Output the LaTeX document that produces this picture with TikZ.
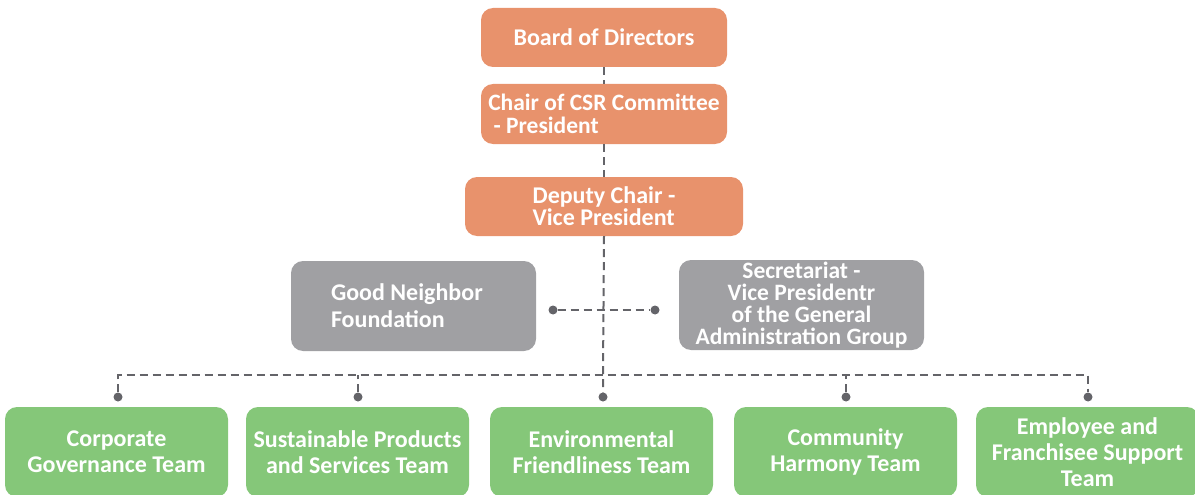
\documentclass[tikz,border=0pt]{standalone}
\usepackage{fontspec}
\setmainfont{Carlito}
\definecolor{orangebox}{RGB}{232,146,108}
\definecolor{greybox}{RGB}{160,160,163}
\definecolor{greenbox}{RGB}{133,199,121}
\definecolor{linegrey}{RGB}{100,100,105}
\begin{document}
\begin{tikzpicture}[x=1pt,y=-1pt,
  box/.style={rectangle,rounded corners=12pt,text=white,inner sep=0pt,
    font=\fontsize{24}{26}\selectfont\bfseries},
  obox/.style={box,fill=orangebox},
  gbox/.style={box,fill=greybox},
  grbox/.style={box,fill=greenbox,minimum width=223pt,minimum height=90pt,align=center},
  link/.style={draw=linegrey,line width=2pt,dash pattern=on 8pt off 5pt},
  dot/.style={circle,fill=linegrey,inner sep=0pt,minimum size=9pt}]
\useasboundingbox (0,0) rectangle (1195,495);
% orange
\node[obox,minimum width=246pt,minimum height=59pt] (board) at (604,37.5) {Board of Directors};
\node[obox,minimum width=246pt,minimum height=60pt,align=left,
  font=\fontsize{23.5}{23}\selectfont\bfseries] (chair) at (604,114) {Chair of CSR Committee\\\ - President};
\node[obox,minimum width=278pt,minimum height=59pt,align=left,
  font=\fontsize{24}{22}\selectfont\bfseries] (deputy) at (604,206.5) {Deputy Chair -\\Vice President};
% grey
\node[gbox,minimum height=90pt,text width=165pt,inner xsep=40pt,align=flush left,
  font=\fontsize{24}{27}\selectfont\bfseries] (gnf) at (413.5,306) {Good Neighbor\\Foundation};
\node[gbox,minimum width=245pt,minimum height=90pt,align=center,
  font=\fontsize{23.5}{22}\selectfont\bfseries] (sec) at (801.5,305) {Secretariat -\\Vice Presidentr\\of the General\\Administration Group};
% green
\node[grbox] (t1) at (116.5,452) {Corporate\\Governance Team};
\node[grbox] (t2) at (357.5,452) {Sustainable Products\\and Services Team};
\node[grbox] (t3) at (601.5,452) {Environmental\\Friendliness Team};
\node[grbox] (t4) at (845.5,452) {Community\\Harmony Team};
\node[grbox] (t5) at (1087.5,452) {Employee and\\Franchisee Support\\Team};
% dots
\node[dot] (dl) at (553,310) {};
\node[dot] (dr) at (655,310) {};
\node[dot] (d1) at (118,397) {};
\node[dot] (d2) at (358,397) {};
\node[dot] (d3) at (603,397) {};
\node[dot] (d4) at (846,397) {};
\node[dot] (d5) at (1088,397) {};
\coordinate (bus) at (603,375);
% connectors
\draw[link] (board.south) -- (chair.north);
\draw[link] (chair.south) -- (deputy.north);
\draw[link] (deputy.south) -- (bus) -- (d3);
\draw[link] (dl) -- (dr);
\draw[link] (d1) |- (bus) -| (d5);
\draw[link] (d2) -- (d2 |- bus);
\draw[link] (d4) -- (d4 |- bus);
\end{tikzpicture}
\end{document}
